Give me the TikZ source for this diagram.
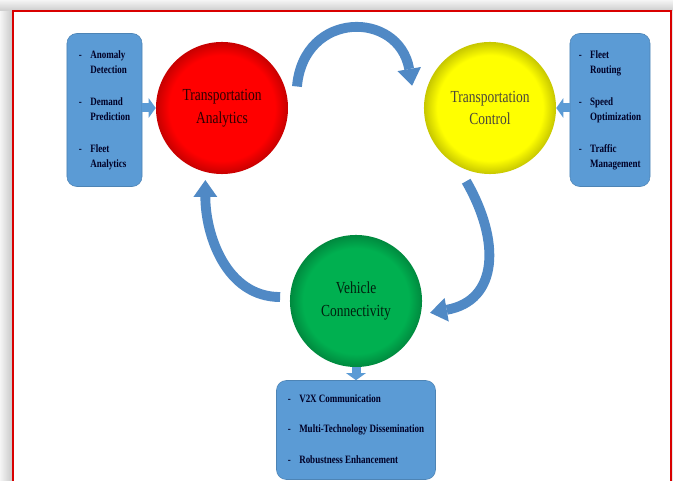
\documentclass[tikz,border=0pt]{standalone}
\usepackage{fontspec}
\setmainfont{Liberation Serif}
\newfontfamily\narrowserif[FakeStretch=0.8]{Liberation Serif}
\usetikzlibrary{arrows.meta,calc}

\definecolor{boxblue}{RGB}{91,155,213}
\definecolor{flowblue}{RGB}{80,137,197}
\definecolor{vcgreen}{RGB}{0,176,80}
\colorlet{discin}{red}
\colorlet{discout}{black}
\pgfdeclareradialshading[discin,discout]{softdisc}{\pgfpoint{0bp}{0bp}}{color(0bp)=(discin); color(20bp)=(discin); color(25bp)=(discout); color(50bp)=(discout)}

\tikzset{
  hub/.style={circle, minimum size=3.3cm, inner sep=0pt, shading=softdisc,
    /utils/exec={\colorlet{discin}{#1}\colorlet{discout}{#1!78!black}},
    align=center, font=\narrowserif\fontsize{12}{16.3}\selectfont, text=#1!18!black},
  list/.style={rounded corners=7pt, fill=boxblue, draw=boxblue!85!black, line width=0.4pt,
    inner sep=0pt, font=\narrowserif\fontsize{8}{10.6}\selectfont\bfseries, text=black!85!blue},
  feed/.style={draw=boxblue, line width=6.4pt, -{Triangle[width=14pt,length=5pt,line width=0pt]}},
  flow/.style={draw=flowblue, line width=7pt, -{Triangle[width=17pt,length=12pt,line width=0pt]}},
}

\begin{document}
\begin{tikzpicture}[x=0.025cm, y=0.025cm]
  \clip (0,0) rectangle (673,481);
  % page shadow and red frame
  \fill[gray!20] (0,0) rectangle (673,481);
  \shade[left color=gray!8, right color=gray!45] (0,0) rectangle (13,481);
  \shade[top color=gray!8, bottom color=gray!40] (0,470) rectangle (673,481);
  \fill[white, draw=red!85!black, line width=1.4pt] (13,-10) rectangle (671,470);

  % the three circles
  \node[hub=red] (ta) at (222,373) {Transportation\\Analytics};
  \node[hub=yellow] (tc) at (490,373) {Transportation\\Control};
  \node[hub=vcgreen] (vc) at (356,180) {Vehicle\\Connectivity};

  % side lists
  \node[list, minimum width=1.875cm, minimum height=3.825cm] (lbox) at (104.5,371)
    {\begin{tabular}{@{}l@{\hspace{6pt}}l@{}}-&Anomaly\\&Detection\\[12pt]-&Demand\\&Prediction\\[12pt]-&Fleet\\&Analytics\end{tabular}};
  \node[list, minimum width=2cm, minimum height=3.825cm] (rbox) at (610,371)
    {\begin{tabular}{@{}l@{\hspace{6pt}}l@{}}-&Fleet\\&Routing\\[12pt]-&Speed\\&Optimization\\[12pt]-&Traffic\\&Management\end{tabular}};
  \node[list, minimum width=3.975cm, minimum height=2.475cm] (bbox) at (356,51)
    {\begin{tabular}{@{}l@{\hspace{6pt}}l@{}}-&V2X Communication\\[11pt]-&Multi-Technology Dissemination\\[11pt]-&Robustness Enhancement\end{tabular}};

  \draw[feed] (lbox.east |- ta) -- (ta);
  \draw[feed] (rbox.west |- tc) -- (tc);
  \draw[feed] (vc) -- (bbox);

  % cycle arrows
  \path (ta) ++(16:78) coordinate (ta-out)
        (tc) ++(164:81) coordinate (tc-in)
        (tc) ++(252:77) coordinate (tc-out)
        (vc) ++(-9:75) coordinate (vc-in)
        (vc) ++(177:76) coordinate (vc-out)
        (ta) ++(257:74) coordinate (ta-in);
  \draw[flow] (ta-out) to[out=85, in=100, looseness=1.7] (tc-in);
  \draw[flow] (tc-out) to[out=-60, in=10, looseness=1.3] (vc-in);
  \draw[flow] (vc-out) to[out=180, in=-90, looseness=1.0] (ta-in);
\end{tikzpicture}
\end{document}
